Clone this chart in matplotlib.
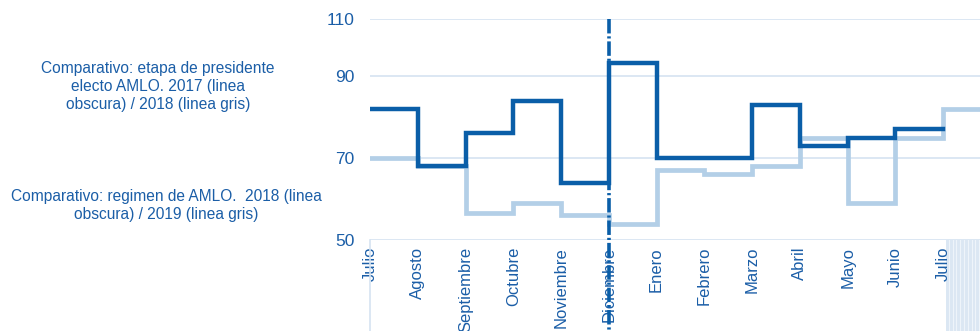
import numpy as np
import matplotlib
matplotlib.use("Agg")
import matplotlib.pyplot as plt
import matplotlib.transforms as mtransforms

plt.rcParams['font.family'] = ['Liberation Sans', 'DejaVu Sans']

# Months on the category axis (July to July)
meses = ["Julio", "Agosto", "Septiembre", "Octubre", "Noviembre", "Diciembre",
         "Enero", "Febrero", "Marzo", "Abril", "Mayo", "Junio", "Julio"]

# dark line (previous year) and light line (following year)
linea_obscura = [82, 68, 76, 84, 64, 94.5, 70, 70, 83, 73, 75, 77, 77]
linea_gris = [70, 68, 56.5, 59, 56, 54, 67, 66, 68, 75, 59, 75, 82, 82]

yticks = [50, 70, 90, 110]
marca_diciembre = 5  # index of the dashed marker

texto_1 = "Comparativo: etapa de presidente\nelecto AMLO. 2017 (linea\nobscura) / 2018 (linea gris)"
texto_2 = "Comparativo: regimen de AMLO.  2018 (linea\nobscura) / 2019 (linea gris)"

azul = "#0a5ea8"
azul_claro = "#b3cfe7"
grid_col = "#d5e3f1"
txt_col = "#1b5ea7"

# the top band (90-110) is drawn tighter than the rest
k = 57 / 82
def fwd(v):
    v = np.asarray(v, dtype=float)
    return np.where(v <= 90, v, 90 + (v - 90) * k)
def inv(v):
    v = np.asarray(v, dtype=float)
    return np.where(v <= 90, v, 90 + (v - 90) / k)

fig = plt.figure(figsize=(9.8, 3.31), dpi=100)
ax = fig.add_axes([370 / 980, 91 / 331, 610 / 980, 221 / 331])
ax.set_yscale('function', functions=(fwd, inv))

x_obs = np.arange(len(linea_obscura))
x_gris = np.arange(len(linea_gris))
ax.plot(x_gris, linea_gris, drawstyle='steps-post', color=azul_claro, lw=3.4,
        solid_joinstyle='miter', zorder=2)
ax.plot(x_obs, linea_obscura, drawstyle='steps-post', color=azul, lw=3.2,
        solid_joinstyle='miter', zorder=3)

ax.set_xlim(0, 12.77)
ax.set_ylim(50, 110)
ax.set_yticks(yticks)
ax.set_yticklabels([str(t) for t in yticks])
ax.set_xticks(np.arange(len(meses)))
ax.set_xticklabels(meses, rotation=90, va='top', ha='center')

for t in yticks:
    ax.axhline(t, color=grid_col, lw=1.2, zorder=1)

for s in ax.spines.values():
    s.set_visible(False)
ax.tick_params(axis='both', length=0, colors=txt_col, labelsize=12)
ax.tick_params(axis='y', pad=11, labelsize=12.5)
ax.tick_params(axis='x', pad=5)

# long tick lines below the axis
trans = mtransforms.blended_transform_factory(ax.transData, ax.transAxes)
ax.plot([0, 0], [0, -0.42], transform=trans, color=grid_col, lw=1.2, clip_on=False)
ax.fill_between([12.05, 12.77], -0.42, 0, transform=trans, color="#dbe7f3",
                lw=0, clip_on=False, zorder=0)
for xv in np.linspace(12.12, 12.75, 9):
    ax.plot([xv, xv], [0, -0.42], transform=trans, color="#eef4fa", lw=0.8,
            clip_on=False, zorder=0.5)

# dashed marker at December
ax.plot([marca_diciembre, marca_diciembre], [1, -0.42], transform=trans,
        color=azul, lw=2.6, dashes=(4, 0.8, 0.6, 0.8), clip_on=False, zorder=4)

fig.text(158 / 980, 1 - 87 / 331, texto_1, ha='center', va='center',
         color=txt_col, fontsize=11.2, linespacing=1.25)
fig.text(166 / 980, 1 - 206 / 331, texto_2, ha='center', va='center',
         color=txt_col, fontsize=11.2, linespacing=1.25)

fig.savefig("out.png", dpi=100)
